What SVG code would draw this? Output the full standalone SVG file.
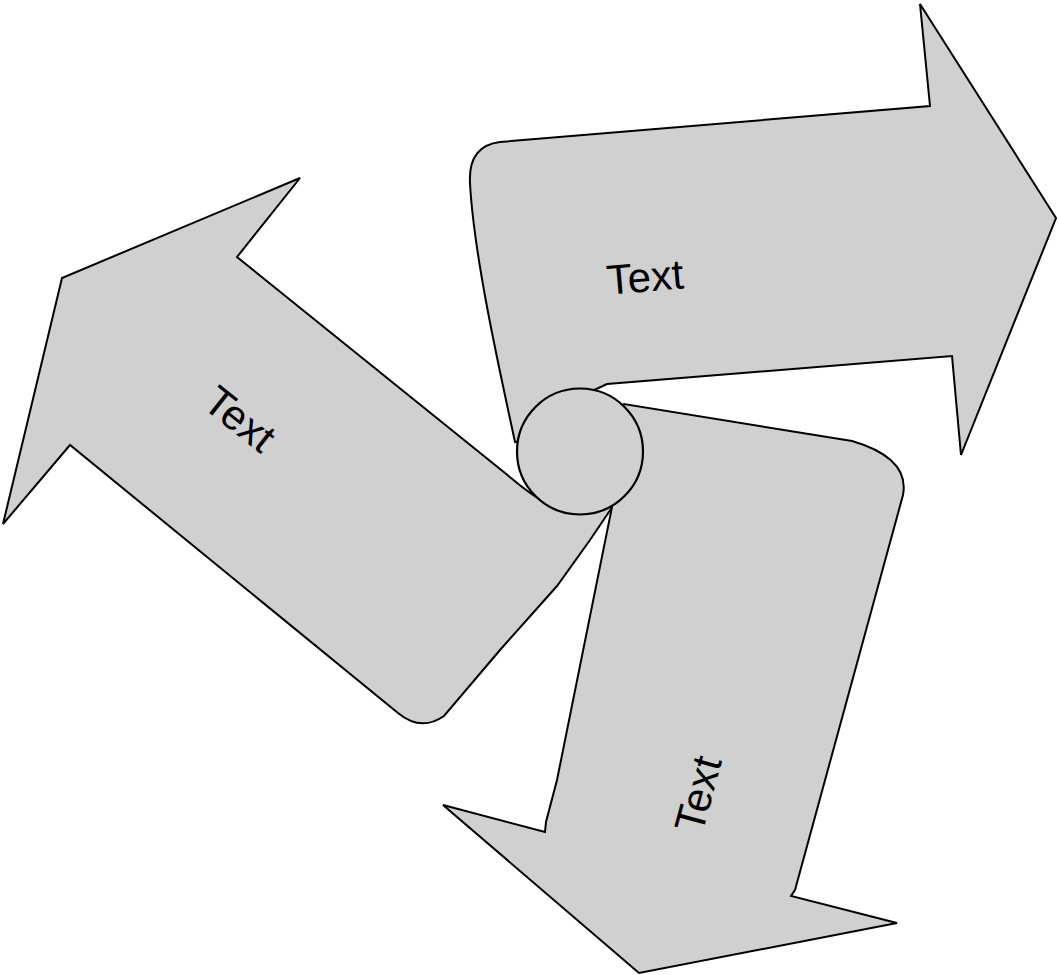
<svg xmlns="http://www.w3.org/2000/svg" width="1058" height="975" viewBox="0 0 1058 975">
<style>
.arrow{fill:#d0d0d0;stroke:#000;stroke-width:2;stroke-linejoin:miter}
.hub{fill:#d0d0d0;stroke:#000;stroke-width:2.2}
.lbl{font-family:"Liberation Sans",Arial,sans-serif;font-size:42px;fill:#000;text-anchor:middle;dominant-baseline:central}
</style>
<rect width="1058" height="975" fill="#fff"/>
<g id="arrow-right">
<path class="arrow" d="M 585,430 L 515,442 C 503,385 474,260 470,183 Q 468,146 500,142 L 930,106 L 920,4 L 1056,218 L 961,455 L 952,356 L 607,384 L 592,391 Z"/>
<text class="lbl" transform="translate(645,277) rotate(-4.8)">Text</text>
</g>
<g id="arrow-left">
<path class="arrow" d="M 590,470 L 541,500 C 527,492 516,482 505,473 L 237,257 L 300,178 L 62,278 L 3,524 L 70,445 L 398,713 Q 421,732 444,716 L 500,650 L 557,586 L 590,540 L 613,506 Z"/>
<text class="lbl" transform="translate(240,419) rotate(38.5)">Text</text>
</g>
<g id="arrow-bottom">
<path class="arrow" d="M 600,455 L 624,404 L 852,441 Q 910,458 903,495 L 795,890 L 791,896 L 897,923 L 639,973 L 443,805 L 545,832 L 546,822 L 557,780 L 612,507 Z"/>
<text class="lbl" transform="translate(698,794) rotate(-74.8)">Text</text>
</g>
<g id="hub">
<circle class="hub" cx="580" cy="451.5" r="63"/>
</g>
<g id="connectors"></g>
</svg>
